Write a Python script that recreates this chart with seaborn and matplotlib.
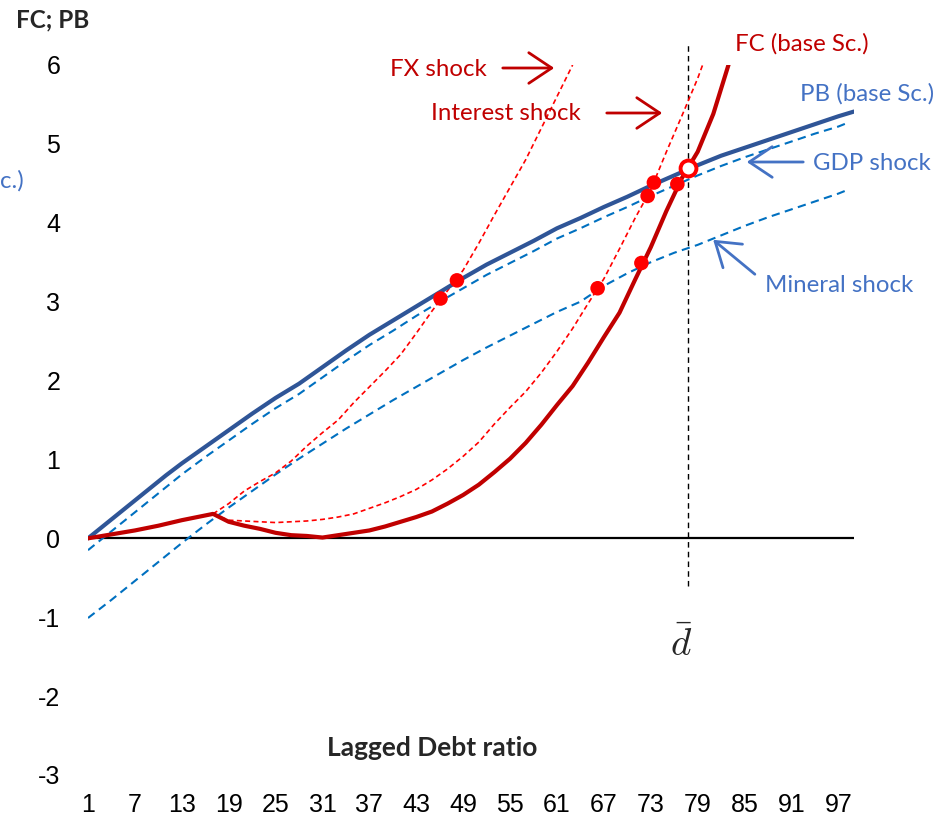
import matplotlib
matplotlib.use("Agg")
import matplotlib.pyplot as plt
import seaborn as sns
import pandas as pd

# ---------------- data ----------------
pb_x = [1, 3, 5, 7, 9, 11, 13, 16, 19, 22, 25, 28, 31, 34, 37, 40, 43, 46, 49, 52, 55, 58,
        61, 64, 67, 70, 73, 76, 79, 82, 85, 88, 91, 94, 97, 99]
pb_y = [0.00, 0.16, 0.32, 0.48, 0.64, 0.80, 0.95, 1.16, 1.37, 1.58, 1.78, 1.96, 2.17, 2.38,
        2.58, 2.76, 2.94, 3.12, 3.30, 3.47, 3.62, 3.77, 3.93, 4.06, 4.20, 4.33, 4.47, 4.60,
        4.73, 4.85, 4.95, 5.05, 5.15, 5.25, 5.35, 5.41]

gdp_x = [1, 4, 7, 10, 13, 16, 19, 22, 25, 28, 31, 34, 37, 40, 43, 46, 49, 52, 55, 58, 61,
         64, 67, 70, 73, 76, 79, 82, 85, 88, 91, 94, 97, 98]
gdp_y = [-0.15, 0.09, 0.33, 0.57, 0.81, 1.03, 1.24, 1.45, 1.65, 1.83, 2.04, 2.25, 2.45, 2.63,
         2.82, 3.00, 3.17, 3.34, 3.49, 3.64, 3.80, 3.93, 4.07, 4.20, 4.34, 4.47, 4.60, 4.72,
         4.83, 4.93, 5.03, 5.13, 5.22, 5.26]

min_x = [1, 4, 7, 10, 13, 16, 19, 22, 25, 28, 31, 34, 37, 40, 43, 46, 49, 52, 55, 58, 61,
         64, 67, 70, 73, 76, 79, 82, 85, 88, 91, 94, 97, 98]
min_y = [-1.01, -0.78, -0.54, -0.30, -0.06, 0.17, 0.39, 0.60, 0.81, 1.01, 1.20, 1.39, 1.57,
         1.75, 1.92, 2.09, 2.26, 2.42, 2.57, 2.72, 2.87, 3.00, 3.20, 3.36, 3.50, 3.62, 3.72,
         3.84, 3.96, 4.07, 4.17, 4.27, 4.37, 4.41]

fc_x = [1, 4, 7, 10, 13, 15, 17, 19, 21, 23, 25, 27, 29, 31, 33, 35, 37, 39, 41, 43, 45, 47,
        49, 51, 53, 55, 57, 59, 61, 63, 65, 67, 69, 71, 73, 75, 77, 79, 81, 83]
fc_y = [0.00, 0.05, 0.10, 0.16, 0.23, 0.27, 0.31, 0.21, 0.16, 0.12, 0.07, 0.04, 0.03, 0.01,
        0.04, 0.07, 0.10, 0.15, 0.21, 0.27, 0.34, 0.44, 0.55, 0.68, 0.84, 1.01, 1.21, 1.44,
        1.69, 1.93, 2.23, 2.55, 2.86, 3.28, 3.69, 4.15, 4.57, 4.90, 5.38, 6.02]

int_x = [17, 19, 21, 23, 25, 27, 29, 31, 33, 35, 37, 39, 41, 43, 45, 47, 49, 51, 53, 55, 57,
         59, 61, 63, 65, 67, 69, 71, 73, 75, 77, 79, 80]
int_y = [0.31, 0.23, 0.22, 0.21, 0.20, 0.21, 0.22, 0.24, 0.27, 0.31, 0.38, 0.45, 0.53, 0.62,
         0.74, 0.88, 1.04, 1.22, 1.45, 1.66, 1.86, 2.10, 2.37, 2.66, 2.98, 3.29, 3.67, 4.06,
         4.42, 4.90, 5.36, 5.83, 6.10]

fx_x = [17, 19, 21, 23, 25, 27, 29, 31, 33, 35, 37, 39, 41, 43, 45, 47, 49, 51, 53, 55, 57,
        59, 61, 63]
fx_y = [0.31, 0.44, 0.60, 0.72, 0.83, 0.98, 1.17, 1.34, 1.50, 1.72, 1.92, 2.12, 2.33, 2.60,
        2.88, 3.14, 3.40, 3.74, 4.10, 4.45, 4.80, 5.20, 5.60, 6.00]

dot_x = [46.1, 48.2, 66.2, 71.8, 72.6, 73.4, 76.4]
dot_y = [3.04, 3.27, 3.17, 3.49, 4.34, 4.51, 4.49]

eq_x = [77.8]
eq_y = [4.69]

d_bar = 77.7

x_ticks = list(range(1, 100, 6))
y_ticks = [-3, -2, -1, 0, 1, 2, 3, 4, 5, 6]

# ---------------- style ----------------
sns.set_theme(style="white")
plt.rcParams["font.family"] = ["Liberation Sans", "DejaVu Sans"]

W, H = 939, 816
fig = plt.figure(figsize=(W / 100, H / 100), dpi=100)
ax = fig.add_axes([88 / W, 1 - 775 / H, (854 - 88) / W, (775 - 65) / H])


def fp(px, py):
    return (px / W, 1 - py / H)


RED_DARK = "#C00000"
RED = "#FF0000"
BLUE_DARK = "#2F5597"
BLUE = "#0070C0"
BLUE_TXT = "#4472C4"

# zero axis line
ax.axhline(0, xmin=0, xmax=1, color="black", lw=1.6, zorder=2)

series = [
    (min_x, min_y, BLUE, 1.5, (0, (4, 2.6))),
    (gdp_x, gdp_y, BLUE, 1.5, (0, (4, 2.6))),
    (fx_x, fx_y, RED, 1.2, (0, (3, 2))),
    (int_x, int_y, RED, 1.2, (0, (3, 2))),
    (pb_x, pb_y, BLUE_DARK, 3.0, "-"),
    (fc_x, fc_y, RED_DARK, 3.0, "-"),
]
for xs, ys, col, lw, ls in series:
    df = pd.DataFrame({"x": xs, "y": ys})
    sns.lineplot(data=df, x="x", y="y", ax=ax, color=col, linewidth=lw,
                 linestyle=ls, zorder=3)

# vertical dashed line at d-bar
ax.plot([d_bar, d_bar], [-0.6, 6.27], color="black", lw=1.0,
        linestyle=(0, (4, 3)), clip_on=False, zorder=2)

sns.scatterplot(x=dot_x, y=dot_y, ax=ax, color=RED, s=110, edgecolor="none", zorder=5)
sns.scatterplot(x=eq_x, y=eq_y, ax=ax, color="white", s=130, edgecolor=RED,
                linewidth=2.8, zorder=6)

ax.set_xlim(1, 99)
ax.set_ylim(-3, 6)
ax.set_xticks(x_ticks)
ax.set_xticklabels([str(t) for t in x_ticks])
ax.set_yticks(y_ticks)
ax.set_yticklabels([str(t) for t in y_ticks])
ax.tick_params(axis="both", length=0, labelsize=18, colors="black")
ax.tick_params(axis="x", pad=13)
ax.tick_params(axis="y", pad=20)
ax.set_xlabel("")
ax.set_ylabel("")
for s in ax.spines.values():
    s.set_visible(False)
ax.grid(False)

# ---------------- texts ----------------
CAL = ["Lato", "DejaVu Sans"]
fig.text(*fp(53, 20), "FC; PB", ha="center", va="center", fontsize=17.5,
         fontweight="bold", family=CAL)
fig.text(*fp(432, 748), "Lagged Debt ratio", ha="center", va="center", fontsize=19,
         fontweight="bold", family=CAL)

lab = 17.3
fig.text(*fp(390, 69), "FX shock", ha="left", va="center", fontsize=lab, color=RED_DARK, family=CAL)
fig.text(*fp(431, 114), "Interest shock", ha="left", va="center", fontsize=lab, color=RED_DARK, family=CAL)
fig.text(*fp(735, 44), "FC (base Sc.)", ha="left", va="center", fontsize=lab, color=RED_DARK, family=CAL)
fig.text(*fp(800, 94), "PB (base Sc.)", ha="left", va="center", fontsize=lab, color=BLUE_TXT, family=CAL)
fig.text(*fp(813, 163), "GDP shock", ha="left", va="center", fontsize=lab, color=BLUE_TXT, family=CAL)
fig.text(*fp(765, 286), "Mineral shock", ha="left", va="center", fontsize=lab, color=BLUE_TXT, family=CAL)
fig.text(*fp(0, 181), "c.)", ha="left", va="center", fontsize=lab, color=BLUE_TXT, family=CAL)

fig.text(*fp(681, 645), r"$\bar{d}$", ha="center", va="center", fontsize=28,
         math_fontfamily="cm")

# ---------------- arrows ----------------
def arrow(x0, y0, x1, y1, col):
    fig.patches.append(matplotlib.patches.FancyArrowPatch(
        fp(x0, y0), fp(x1, y1), transform=fig.transFigure,
        arrowstyle="->,head_length=0.75,head_width=0.5", mutation_scale=22,
        color=col, lw=2.0))


arrow(500, 68, 557, 68, RED_DARK)
arrow(604, 113, 665, 113, RED_DARK)
arrow(806, 162, 744, 162, BLUE_TXT)
arrow(757, 276, 711, 238, BLUE_TXT)

fig.savefig("out.png", dpi=100)
